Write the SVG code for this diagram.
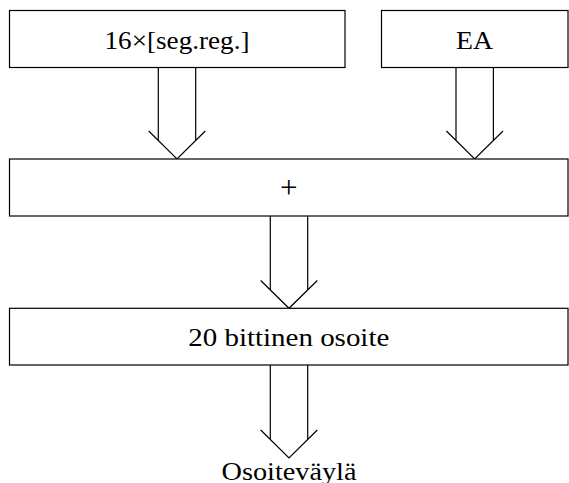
<svg xmlns="http://www.w3.org/2000/svg" width="569" height="483" viewBox="0 0 569 483">
  <style>
    .box { fill: #ffffff; stroke: #000000; stroke-width: 1.2; }
    .lbl { font-family: "Liberation Serif", "DejaVu Serif", serif; font-size: 25px; fill: #000000; text-anchor: middle; }
    .op { font-size: 31px; }
    .arrow { fill: none; stroke: #000000; stroke-width: 1.2; stroke-linejoin: miter; }
  </style>
  <rect width="569" height="483" fill="#ffffff"/>

  <!-- wide hollow arrows between the stages -->
  <g id="connectors">
    <!-- segment register -> adder -->
    <path class="arrow" d="M158.3,67.5 V140.5 M195.7,67.5 V140.5 M148.7,131 L177,159 L205.3,131"/>
    <!-- effective address -> adder -->
    <path class="arrow" d="M456,67.5 V140.5 M493.4,67.5 V140.5 M446.4,131 L474.7,159 L503,131"/>
    <!-- adder -> 20-bit address -->
    <path class="arrow" d="M270.3,216 V290 M307.7,216 V290 M260.7,280.5 L289,308.3 L317.3,280.5"/>
    <!-- 20-bit address -> address bus -->
    <path class="arrow" d="M270.3,365 V439.5 M307.7,365 V439.5 M260.7,430 L289,458 L317.3,430"/>
  </g>

  <g id="segreg">
    <rect class="box" x="9.5" y="10.5" width="335.5" height="57"/>
    <text class="lbl" x="177" y="48.5" textLength="145" lengthAdjust="spacingAndGlyphs">16×[seg.reg.]</text>
  </g>

  <g id="ea">
    <rect class="box" x="381.5" y="10.5" width="186.5" height="57"/>
    <text class="lbl" x="474.5" y="48.5" textLength="37" lengthAdjust="spacingAndGlyphs">EA</text>
  </g>

  <g id="adder">
    <rect class="box" x="9.5" y="159" width="558.5" height="57"/>
    <text class="lbl op" x="288.7" y="197.5">+</text>
  </g>

  <g id="address20">
    <rect class="box" x="9.5" y="308.3" width="558.5" height="56.7"/>
    <text class="lbl" x="288.8" y="345.5" textLength="201" lengthAdjust="spacingAndGlyphs">20 bittinen osoite</text>
  </g>

  <g id="addressbus">
    <text class="lbl" x="289" y="479.5" textLength="135" lengthAdjust="spacingAndGlyphs">Osoiteväylä</text>
  </g>
</svg>
